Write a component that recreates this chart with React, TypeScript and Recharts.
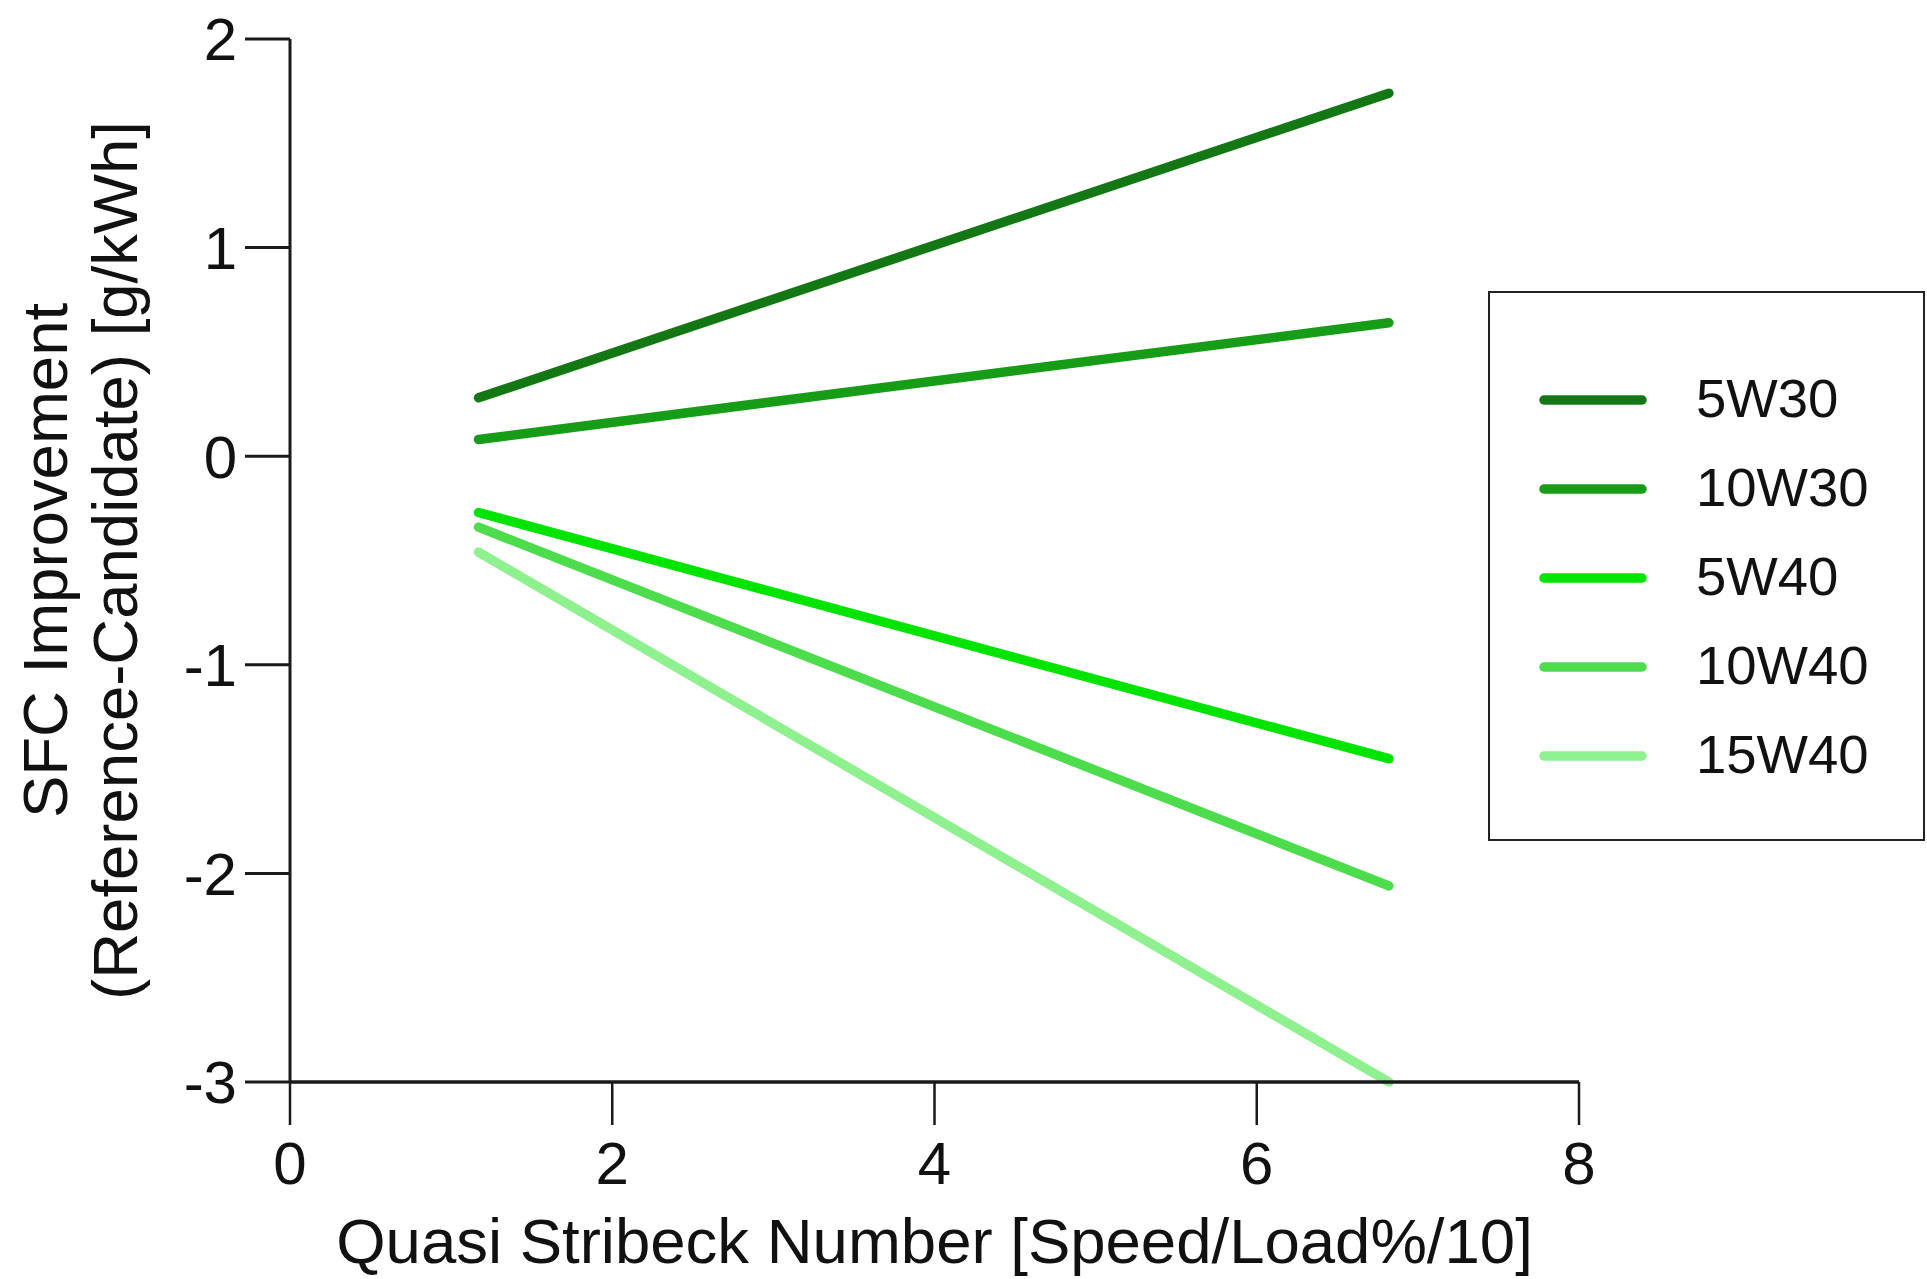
import React from 'react'
import { LineChart, Line, XAxis, YAxis, Legend } from 'recharts'

// x positions where the fitted lines start and end
const X_POINTS = [1.17, 6.82]

const OILS = ['5W30', '10W30', '5W40', '10W40', '15W40']

const VALUES_5W30 = [0.28, 1.74]
const VALUES_10W30 = [0.08, 0.64]
const VALUES_5W40 = [-0.27, -1.45]
const VALUES_10W40 = [-0.34, -2.06]
const VALUES_15W40 = [-0.46, -3.0]

const X_TICKS = [0, 2, 4, 6, 8]
const Y_TICKS = [-3, -2, -1, 0, 1, 2]

const COLORS = [
  '#137813', // 5W30
  '#169c16', // 10W30
  '#00e400', // 5W40
  '#4cdc4c', // 10W40
  '#8ff08f', // 15W40
]

const SERIES = [VALUES_5W30, VALUES_10W30, VALUES_5W40, VALUES_10W40, VALUES_15W40]

const data = X_POINTS.map((x, i) => {
  const row: Record<string, number> = { x }
  OILS.forEach((name, s) => {
    row[name] = SERIES[s][i]
  })
  return row
})

const FONT = '"Liberation Sans", Arial, Helvetica, sans-serif'

function XTitle(props: any) {
  const { x, y, width } = props.viewBox
  return (
    <text x={x + width / 2} y={y + 181} textAnchor="middle" fontSize={63.5} fill="#111" fontFamily={FONT}>
      Quasi Stribeck Number [Speed/Load%/10]
    </text>
  )
}

function YTitle(props: any) {
  const { y, height } = props.viewBox
  const cy = y + height / 2
  return (
    <g fontSize={63.5} fill="#111" fontFamily={FONT} textAnchor="middle">
      <text x={67} y={cy} transform={`rotate(-90, 67, ${cy})`}>SFC Improvement</text>
      <text x={137} y={cy} transform={`rotate(-90, 137, ${cy})`}>(Reference-Candidate) [g/kWh]</text>
    </g>
  )
}

function LegendBox() {
  return (
    <div
      style={{
        width: 437,
        height: 550,
        boxSizing: 'border-box',
        border: '2.5px solid #222',
        background: '#fff',
        paddingTop: 62,
        fontFamily: FONT,
      }}
    >
      {OILS.map((name, i) => (
        <div key={name} style={{ display: 'flex', alignItems: 'center', height: 89 }}>
          <svg width={108} height={12} style={{ marginLeft: 49 }}>
            <line x1={5} y1={6} x2={103} y2={6} stroke={COLORS[i]} strokeWidth={9.5} strokeLinecap="round" />
          </svg>
          <span style={{ marginLeft: 49, fontSize: 54.5, color: '#111', lineHeight: 1 }}>{name}</span>
        </div>
      ))}
    </div>
  )
}

export default function App() {
  return (
    <div style={{ position: 'absolute', left: 0, top: 0, width: 1927, height: 1279, background: '#fff' }}>
      <LineChart width={1927} height={1279} data={data} margin={{ top: 39, right: 348, bottom: 7, left: 0 }}>
        <XAxis
          dataKey="x"
          type="number"
          domain={[0, 8]}
          ticks={X_TICKS}
          height={190}
          tickSize={43}
          tickMargin={16}
          axisLine={{ stroke: '#1a1a1a', strokeWidth: 3.5 }}
          tickLine={{ stroke: '#1a1a1a', strokeWidth: 2.5 }}
          tick={{ fontSize: 60, fill: '#111', fontFamily: FONT }}
          label={{ content: XTitle }}
        />
        <YAxis
          type="number"
          domain={[-3, 2]}
          ticks={Y_TICKS}
          width={290}
          tickSize={45}
          tickMargin={8}
          axisLine={{ stroke: '#1a1a1a', strokeWidth: 3 }}
          tickLine={{ stroke: '#1a1a1a', strokeWidth: 3 }}
          tick={{ fontSize: 60, fill: '#111', fontFamily: FONT }}
          label={{ content: YTitle }}
        />
        <Legend
          layout="vertical"
          align="center"
          verticalAlign="middle"
          content={() => <LegendBox />}
          wrapperStyle={{ left: 1488, top: 291, width: 437, height: 550 }}
        />
        {OILS.map((name, i) => (
          <Line
            key={name}
            dataKey={name}
            stroke={COLORS[i]}
            strokeWidth={9.5}
            strokeLinecap="round"
            dot={false}
            activeDot={false}
            isAnimationActive={false}
          />
        ))}
      </LineChart>
    </div>
  )
}
